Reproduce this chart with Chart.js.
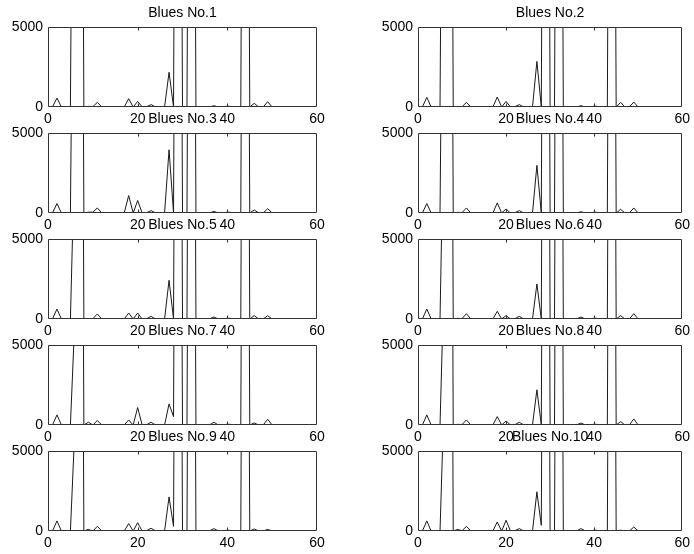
<!DOCTYPE html>
<html><head><meta charset="utf-8">
<script src="https://cdn.jsdelivr.net/npm/chart.js@4.4.0/dist/chart.umd.min.js"></script>
<style>
html,body{margin:0;padding:0;background:#fff;}
#wrap{position:relative;width:694px;height:554px;overflow:hidden;background:#fff;}
canvas{position:absolute;}
</style></head><body><div id="wrap"></div>
<script>
const titles = ["Blues No.1","Blues No.2","Blues No.3","Blues No.4","Blues No.5",
                "Blues No.6","Blues No.7","Blues No.8","Blues No.9","Blues No.10"];
const xTicks = [0, 20, 40, 60];
const yTicks = [0, 5000];
const xIndex = [1,2,3,4,5,6,7,8,9,10,11,12,13,14,15,16,17,18,19,20,21,22,23,24,25,
                26,27,28,29,30,31,32,33,34,35,36,37,38,39,40,41,42,43,44,45,46,47,48,49,50];
const blues1 = [0,560,0,0,0,40000,60000,0,40,20,290,0,0,0,0,0,0,520,0,350,0,20,150,0,30,0,2170,0,60000,0,0,60000,0,30,20,0,80,0,0,50,30,0,0,60000,0,230,0,0,330,0];
const blues2 = [0,600,0,0,0,40000,60000,0,30,20,290,0,0,0,0,0,0,625,0,350,0,20,150,0,30,0,2850,0,60000,0,0,60000,0,30,20,0,80,0,0,50,30,0,0,60000,0,290,0,0,310,0];
const blues3 = [0,590,0,0,0,30000,60000,0,50,50,315,0,0,0,0,0,0,1090,0,780,0,20,150,0,30,0,3950,0,60000,0,0,60000,0,30,20,0,100,0,0,50,30,0,0,60000,0,190,0,0,270,0];
const blues4 = [0,590,0,0,0,30000,60000,0,40,30,315,0,0,0,0,0,0,630,0,250,0,20,150,0,30,0,2980,0,60000,0,0,60000,0,30,20,0,80,0,0,50,30,0,0,60000,0,230,0,0,315,0];
const blues5 = [0,625,0,0,0,11000,60000,0,30,20,310,0,0,0,0,0,0,375,0,375,0,20,165,0,30,0,2420,0,60000,0,0,60000,0,30,20,0,125,0,0,50,30,0,0,60000,0,210,0,0,210,0];
const blues6 = [0,625,0,0,0,15000,60000,0,40,30,330,0,0,0,0,0,0,480,0,210,0,20,165,0,30,0,2190,0,60000,0,0,60000,0,30,20,0,125,0,0,50,30,0,0,60000,0,210,0,0,330,0];
const blues7 = [0,630,0,0,0,6700,60000,0,170,0,280,0,0,0,0,0,0,315,0,1090,0,20,170,0,30,0,1320,525,60000,0,0,60000,0,30,20,0,170,0,0,50,30,0,0,60000,0,125,0,0,360,0];
const blues8 = [0,630,0,0,0,10000,60000,0,40,30,315,0,0,0,0,0,0,525,0,250,0,20,170,0,30,0,2200,0,60000,0,0,60000,0,30,20,0,125,0,0,50,30,0,0,60000,0,210,0,0,380,0];
const blues9 = [0,630,0,0,0,6500,60000,0,100,0,290,0,0,0,0,0,0,460,0,520,0,20,170,0,30,0,2130,290,60000,0,0,60000,0,30,20,0,150,0,0,50,30,0,0,60000,0,125,0,0,100,0];
const blues10 = [0,630,0,0,0,9000,60000,0,100,20,290,0,0,0,0,0,0,565,0,670,0,20,150,0,30,0,2450,355,60000,0,0,60000,0,30,20,0,150,0,0,50,30,0,0,60000,0,50,0,0,250,0];
const allSeries = [blues1,blues2,blues3,blues4,blues5,blues6,blues7,blues8,blues9,blues10];

const FONT = '"Liberation Sans", Arial, Helvetica, sans-serif';

const boxPlugin = {
  id: 'box',
  afterDatasetsDraw(chart) {
    const {ctx, chartArea: a, scales} = chart;
    const L = Math.round(a.left) + 0.5, R = Math.round(a.right) - 0.5;
    const T = Math.round(a.top) + 0.5, B = Math.round(a.bottom) - 0.5;
    ctx.save();
    ctx.strokeStyle = '#333';
    ctx.lineWidth = 1;
    ctx.beginPath();
    ctx.moveTo(L, T); ctx.lineTo(R, T); ctx.lineTo(R, B); ctx.lineTo(L, B); ctx.closePath();
    scales.x.ticks.forEach(t => {
      if (t.value > scales.x.min && t.value < scales.x.max) {
        const px = Math.round(scales.x.getPixelForValue(t.value)) + 0.5;
        ctx.moveTo(px, T); ctx.lineTo(px, T + 3);
        ctx.moveTo(px, B); ctx.lineTo(px, B - 3);
      }
    });
    ctx.stroke();
    ctx.restore();
  }
};

const wrap = document.getElementById('wrap');
allSeries.forEach((series, i) => {
  const col = i % 2, row = Math.floor(i / 2);
  const left = col ? 350 : 0;
  const width = col ? 344 : 347;
  const yW = col ? 68 : 48;
  const padR = col ? 8 : 30;
  const top = 106 * row;
  const height = 129;
  const cv = document.createElement('canvas');
  cv.width = width; cv.height = height;
  cv.style.left = left + 'px'; cv.style.top = top + 'px';
  cv.style.width = width + 'px'; cv.style.height = height + 'px';
  wrap.appendChild(cv);
  new Chart(cv, {
    type: 'line',
    data: {
      datasets: [{
        data: xIndex.map((v, k) => ({x: v, y: series[k]})),
        borderColor: '#1a1a1a', borderWidth: 1, pointRadius: 0, tension: 0, fill: false
      }]
    },
    options: {
      responsive: false, animation: false, devicePixelRatio: 1,
      layout: {padding: {left: 0, right: padR, top: 0, bottom: 0}},
      plugins: {
        legend: {display: false}, tooltip: {enabled: false},
        title: {display: true, fullSize: false, text: titles[i], color: '#000',
          font: {family: FONT, size: 14, weight: 'normal'},
          padding: {top: 4.5, bottom: 5.7}}
      },
      scales: {
        x: {
          type: 'linear', min: 0, max: 60,
          afterBuildTicks: s => { s.ticks = xTicks.map(v => ({value: v})); },
          grid: {display: false, drawTicks: false}, border: {display: false},
          ticks: {padding: 4, color: '#000', font: {family: FONT, size: 14}, maxRotation: 0, autoSkip: false,
                  callback: v => String(v)},
          afterFit: s => { s.height = 22; }
        },
        y: {
          type: 'linear', min: 0, max: 5000,
          afterBuildTicks: s => { s.ticks = yTicks.map(v => ({value: v})); },
          grid: {display: false, drawTicks: false}, border: {display: false},
          ticks: {padding: 5, color: '#000', font: {family: FONT, size: 14}, callback: v => String(v)},
          afterFit: s => { s.width = yW; }
        }
      }
    },
    plugins: [boxPlugin]
  });
});
</script>
</body></html>
